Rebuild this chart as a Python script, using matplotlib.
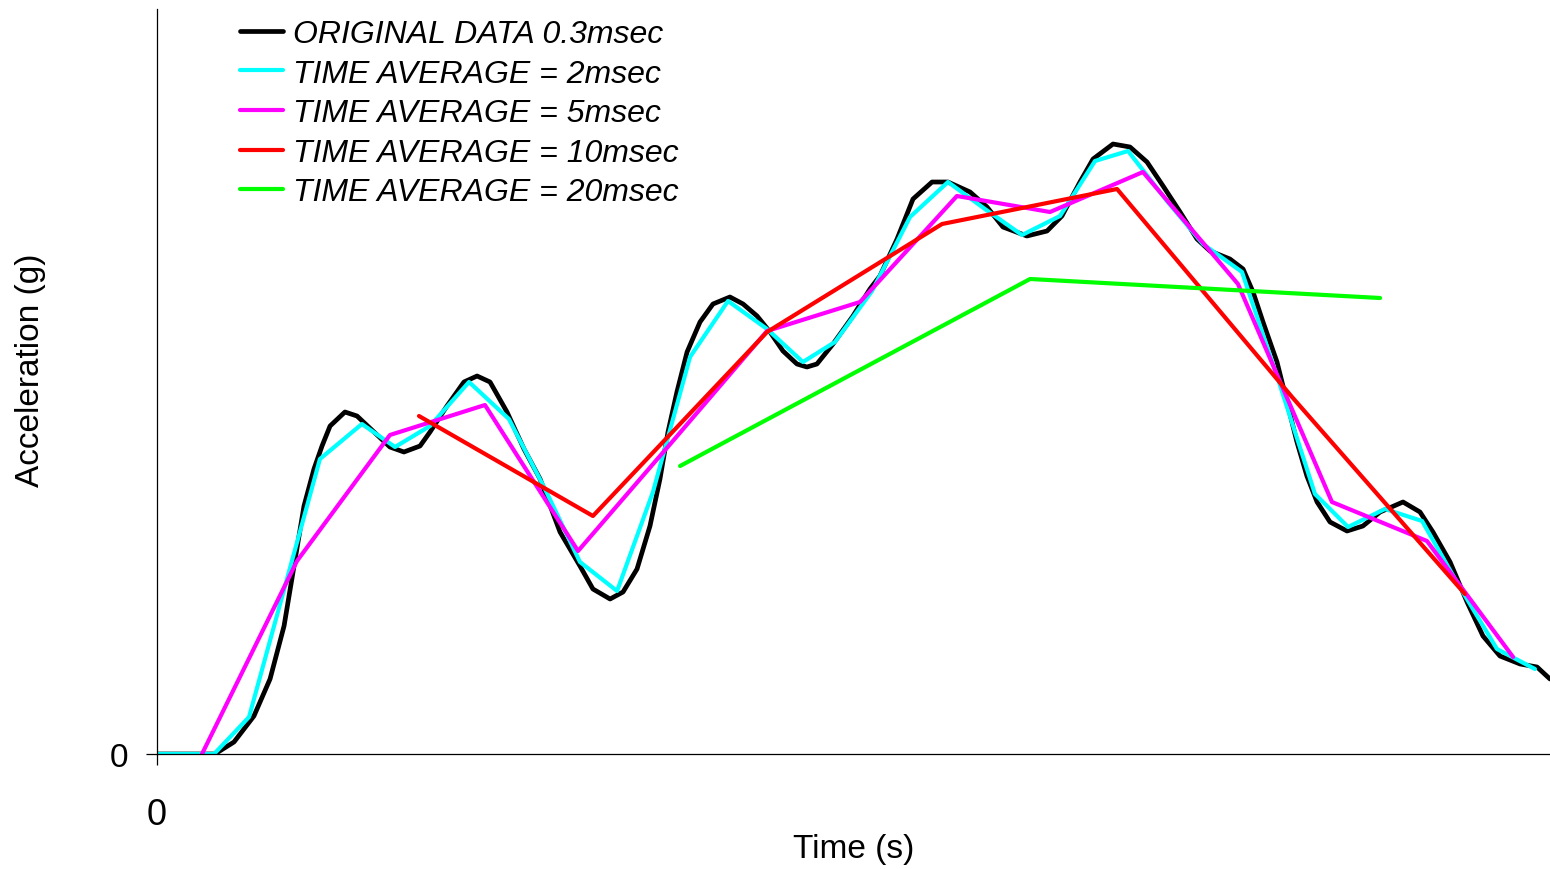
import matplotlib
matplotlib.use("Agg")
import matplotlib.pyplot as plt

plt.rcParams['font.family'] = ['Liberation Sans', 'DejaVu Sans']

# Time in ms, acceleration in arbitrary g units
t_orig = [0, 3.31, 4.40, 5.54, 6.46, 7.26, 7.83, 8.40, 8.97, 9.43, 9.89, 10.74, 11.43, 12.40,
          13.31, 14.11, 15.03, 15.60, 16.57, 17.54, 18.29, 19.03, 20.00, 20.97, 21.89, 23.03,
          24.17, 24.91, 25.89, 26.63, 27.43, 28.17, 28.74, 29.20, 29.71, 30.29, 31.03, 31.77,
          32.74, 33.49, 34.29, 35.03, 35.77, 36.57, 37.14, 37.71, 38.63, 39.77, 40.74, 41.31,
          42.29, 43.20, 44.29, 45.20, 46.46, 47.43, 48.34, 49.71, 50.86, 51.71, 52.74, 53.49,
          54.63, 55.60, 56.57, 57.49, 58.46, 59.43, 60.17, 61.31, 62.06, 62.63, 63.20, 64.00,
          64.57, 65.14, 65.71, 66.29, 67.03, 68.00, 68.91, 69.89, 71.20, 72.17, 72.91, 73.89,
          74.86, 75.77, 76.74, 77.89, 78.86, 79.60]
a_orig = [0, 0, 1.2, 3.8, 7.5, 12.8, 18.8, 24.8, 28.5, 30.8, 32.8, 34.2, 33.8, 32.2,
          30.7, 30.2, 30.8, 32.2, 34.8, 37.2, 37.8, 37.2, 34.2, 30.5, 27.5, 22.2,
          18.8, 16.5, 15.5, 16.2, 18.5, 22.8, 27.5, 32.2, 36.2, 40.2, 43.2, 45.0,
          45.7, 45.0, 43.8, 42.2, 40.3, 39.0, 38.7, 39.0, 41.0, 43.8, 46.5, 47.8,
          51.5, 55.5, 57.2, 57.2, 56.2, 54.7, 52.7, 51.8, 52.3, 53.8, 57.2, 59.5,
          61.0, 60.7, 59.2, 56.8, 54.2, 51.5, 50.3, 49.5, 48.5, 46.2, 43.2, 39.2,
          35.2, 31.2, 27.8, 25.2, 23.2, 22.3, 22.8, 24.2, 25.2, 24.2, 22.2, 19.2,
          15.2, 11.8, 9.8, 9.0, 8.7, 7.5]

t_avg2 = [0, 3.26, 5.26, 9.31, 11.71, 13.60, 15.60, 17.83, 20.11, 22.17, 24.17, 26.29, 28.34,
          30.46, 32.63, 34.86, 36.91, 38.74, 40.86, 43.03, 45.20, 47.31, 49.43, 51.60, 53.60,
          55.49, 57.71, 59.77, 62.00, 64.11, 66.17, 68.06, 70.17, 72.29, 74.34, 76.57, 78.74]
a_avg2 = [0, 0, 3.7, 29.5, 33.0, 30.7, 32.8, 37.2, 33.5, 26.5, 19.2, 16.3, 26.2,
          39.7, 45.3, 42.5, 39.2, 41.2, 46.3, 53.7, 57.2, 54.5, 51.9, 53.8, 59.3,
          60.3, 55.3, 51.0, 48.2, 37.2, 26.0, 22.7, 24.5, 23.3, 17.0, 10.5, 8.5]

t_avg5 = [2.57, 8.00, 13.31, 18.74, 24.06, 29.43, 34.86, 40.17, 45.71, 51.03, 56.34, 61.77,
          67.14, 72.57, 77.49]
a_avg5 = [0, 19.3, 31.9, 34.9, 20.3, 31.2, 42.3, 45.2, 55.8, 54.2, 58.2, 47.0,
          25.2, 21.3, 9.7]

t_avg10 = [14.97, 24.91, 34.86, 44.86, 54.86, 64.86, 74.74]
a_avg10 = [33.8, 23.8, 42.2, 53.0, 56.5, 35.7, 16.0]

t_avg20 = [29.89, 49.89, 69.89]
a_avg20 = [28.8, 47.5, 45.6]

labels = ["ORIGINAL DATA 0.3msec", "TIME AVERAGE = 2msec", "TIME AVERAGE = 5msec",
          "TIME AVERAGE = 10msec", "TIME AVERAGE = 20msec"]
colors = ["#000000", "#00FFFF", "#FF00FF", "#FF0000", "#00FF00"]
widths = [3.4, 3.0, 3.0, 3.0, 3.0]

fig = plt.figure(figsize=(15.5, 8.7), dpi=100)
ax = fig.add_axes([157 / 1550, 1 - 755 / 870, 1393 / 1550, 745 / 870])

series = [(t_orig, a_orig), (t_avg2, a_avg2), (t_avg5, a_avg5), (t_avg10, a_avg10), (t_avg20, a_avg20)]
for (t, a), c, lw, lab in zip(series, colors, widths, labels):
    ax.plot(t, a, color=c, lw=lw, label=lab, solid_joinstyle='round', solid_capstyle='round')

ax.set_xlim(0, 79.6)
ax.set_ylim(0, 74.5)

for s in ['top', 'right']:
    ax.spines[s].set_visible(False)
for s in ['left', 'bottom']:
    ax.spines[s].set_linewidth(0.9)

ax.set_xticks([0])
ax.set_xticklabels(["0"])
ax.set_yticks([0])
ax.set_yticklabels(["0"])
ax.tick_params(axis='x', direction='out', length=8, width=0.9, pad=23, labelsize=26)
ax.tick_params(axis='y', direction='out', length=8, width=0.9, pad=13, labelsize=24)

ax.set_xlabel("Time (s)", fontsize=24)
ax.xaxis.set_label_coords(0.5, -0.106)
ax.set_ylabel("Acceleration (g)", fontsize=24)
ax.yaxis.set_label_coords(-0.080, 0.517)

leg = ax.legend(loc='upper left', bbox_to_anchor=(240 / 1550, 850 / 870),
                bbox_transform=fig.transFigure, frameon=False, borderpad=0,
                borderaxespad=0, handlelength=1.35, handletextpad=0.31,
                labelspacing=0.30, prop={'style': 'italic', 'size': 23})

fig.savefig("out.png", dpi=100)
